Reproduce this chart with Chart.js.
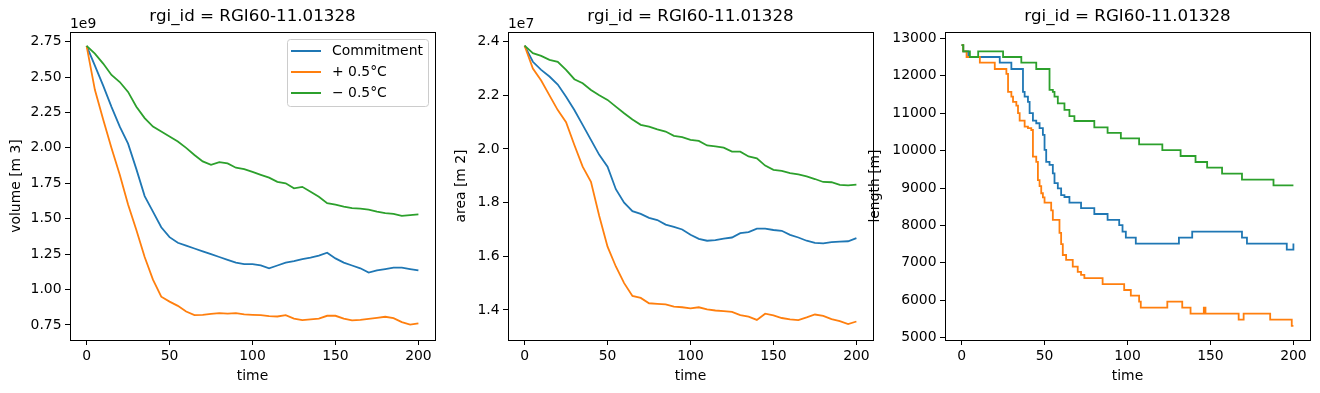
<!DOCTYPE html>
<html>
<head>
<meta charset="utf-8">
<script src="https://cdn.jsdelivr.net/npm/chart.js@4.4.0/dist/chart.umd.min.js"></script>
<style>
  body { margin: 0; background: #fff; }
  #wrap { position: relative; width: 1320px; height: 393px; overflow: hidden; background: #fff; }
  canvas { position: absolute; top: 0; }
</style>
</head>
<body>
<div id="wrap">
  <canvas id="volCanvas" width="440" height="393" style="left:0px"></canvas>
  <canvas id="areaCanvas" width="440" height="393" style="left:440px"></canvas>
  <canvas id="lenCanvas" width="460" height="393" style="left:860px"></canvas>
</div>
<script>
// Dados (tempo em anos)
var titulo = "rgi_id = RGI60-11.01328";
var nomes = ["Commitment", "+ 0.5°C", "\u2212 0.5°C"];
var cores = ["#1f77b4", "#ff7f0e", "#2ca02c"];
var anos = [0, 5, 10, 15, 20, 25, 30, 35, 40, 45, 50, 55, 60, 65, 70, 75, 80, 85, 90, 95, 100,
	105, 110, 115, 120, 125, 130, 135, 140, 145, 150, 155, 160, 165, 170, 175, 180, 185, 190, 195, 200];
var xTicks = [0, 50, 100, 150, 200];

// Volume (x 1e9 m3)
var volCommit = [2.72, 2.58, 2.44, 2.29, 2.15, 2.03, 1.85, 1.66, 1.55, 1.44, 1.37, 1.33, 1.31, 1.29, 1.27, 1.25, 1.23, 1.21, 1.19, 1.18, 1.18,
	1.17, 1.15, 1.17, 1.19, 1.2, 1.215, 1.225, 1.24, 1.26, 1.22, 1.19, 1.17, 1.15, 1.12, 1.135, 1.145, 1.155, 1.155, 1.145, 1.135];
var volQuente = [2.72, 2.41, 2.2, 2.0, 1.81, 1.6, 1.42, 1.23, 1.07, 0.95, 0.915, 0.885, 0.845, 0.82, 0.822, 0.829, 0.834, 0.83, 0.834, 0.825, 0.822,
	0.82, 0.812, 0.81, 0.82, 0.795, 0.785, 0.79, 0.795, 0.815, 0.815, 0.795, 0.783, 0.786, 0.793, 0.8, 0.808, 0.798, 0.77, 0.752, 0.762];
var volFrio = [2.72, 2.665, 2.595, 2.515, 2.465, 2.395, 2.29, 2.21, 2.15, 2.115, 2.08, 2.045, 2.0, 1.95, 1.905, 1.88, 1.9, 1.89, 1.86, 1.85, 1.83,
	1.81, 1.79, 1.76, 1.75, 1.715, 1.725, 1.69, 1.655, 1.61, 1.6, 1.585, 1.575, 1.572, 1.565, 1.55, 1.54, 1.535, 1.52, 1.525, 1.53];
var volTicks = [0.75, 1.0, 1.25, 1.5, 1.75, 2.0, 2.25, 2.5, 2.75];

// Área (x 1e7 m2)
var areaCommit = [2.385, 2.325, 2.295, 2.27, 2.24, 2.195, 2.145, 2.09, 2.034, 1.978, 1.934, 1.85, 1.8, 1.768, 1.758, 1.743, 1.735, 1.718, 1.71, 1.7, 1.68,
	1.665, 1.658, 1.66, 1.666, 1.67, 1.686, 1.69, 1.703, 1.703, 1.698, 1.695, 1.68, 1.67, 1.658, 1.65, 1.648, 1.653, 1.655, 1.656, 1.668];
var areaQuente = [2.385, 2.3, 2.255, 2.2, 2.145, 2.1, 2.015, 1.934, 1.878, 1.75, 1.636, 1.562, 1.5, 1.452, 1.445, 1.425, 1.423, 1.421, 1.412, 1.41, 1.406,
	1.41, 1.402, 1.398, 1.396, 1.393, 1.381, 1.375, 1.363, 1.386, 1.38, 1.37, 1.365, 1.362, 1.372, 1.383, 1.378, 1.366, 1.358, 1.347, 1.357];
var areaFrio = [2.385, 2.357, 2.347, 2.332, 2.325, 2.295, 2.26, 2.245, 2.22, 2.2, 2.183, 2.158, 2.133, 2.11, 2.09, 2.083, 2.073, 2.065, 2.049, 2.044, 2.034,
	2.03, 2.013, 2.01, 2.005, 1.99, 1.99, 1.972, 1.965, 1.938, 1.922, 1.918, 1.91, 1.905, 1.898, 1.888, 1.877, 1.876, 1.866, 1.864, 1.867];
var areaTicks = [1.4, 1.6, 1.8, 2.0, 2.2, 2.4];

// Comprimento (m) - degraus: ano em que o valor muda
var lenCommitT = [0, 1, 4, 23, 30, 37, 38, 40, 41, 43, 45, 47, 49, 50, 51, 53, 55, 56, 58, 60, 62, 65, 72, 80, 88, 95, 97, 99, 105, 131, 139, 169, 172, 196, 200];
var lenCommitV = [12820, 12650, 12500, 12350, 12180, 11570, 11440, 11300, 11000, 10800, 10730, 10600, 10420, 10020, 9700, 9620, 9390, 9130, 8990, 8810, 8760, 8610, 8460, 8305, 8150, 8010, 7835, 7675, 7515, 7675, 7835, 7675, 7515, 7355, 7515];
var lenQuenteT = [0, 1, 3, 11, 20, 27, 28, 30, 31, 33, 34, 35, 38, 40, 42, 43, 45, 46, 47, 48, 49, 50, 54, 55, 59, 60, 61, 63, 67, 70, 72, 74, 85, 98, 102, 107, 108, 124, 133, 138, 146, 147, 167, 170, 186, 199, 200];
var lenQuenteV = [12820, 12650, 12500, 12350, 12180, 12050, 11570, 11440, 11300, 11200, 11000, 10800, 10640, 10600, 10550, 9840, 9700, 9210, 9050, 8860, 8750, 8610, 8400, 8150, 7800, 7500, 7210, 7080, 6900, 6760, 6680, 6590, 6430, 6275, 6125, 5965, 5805, 5965, 5805, 5645, 5805, 5645, 5485, 5645, 5485, 5315, 5315];
var lenFrioT = [0, 1, 5, 10, 25, 36, 45, 53, 55, 56, 58, 62, 65, 68, 80, 88, 96, 107, 121, 132, 141, 148, 157, 169, 188, 200];
var lenFrioV = [12820, 12650, 12500, 12650, 12500, 12350, 12180, 11620, 11570, 11440, 11260, 11090, 10920, 10790, 10620, 10475, 10325, 10165, 10010, 9855, 9695, 9545, 9385, 9225, 9070, 9070];
var lenTicks = [5000, 6000, 7000, 8000, 9000, 10000, 11000, 12000, 13000];

Chart.defaults.font.family = "'DejaVu Sans', sans-serif";
Chart.defaults.font.size = 13.9;
Chart.defaults.color = "#000";

function pontos(xs, ys) {
	return xs.map(function (x, i) { return { x: x, y: ys[i] }; });
}

function series(listaX, listaY, degrau) {
	return listaY.map(function (ys, i) {
		return {
			label: nomes[i],
			data: pontos(listaX[i], ys),
			borderColor: cores[i],
			backgroundColor: cores[i],
			borderWidth: 1.8,
			pointRadius: 0,
			tension: 0,
			stepped: degrau ? "before" : false,
			order: 3 - i,
		};
	});
}

// Moldura, título, texto de offset e legenda no estilo matplotlib
var decoracao = {
	id: "decoracao",
	afterDraw: function (chart, args, opts) {
		var ctx = chart.ctx;
		var a = chart.chartArea;
		ctx.save();
		ctx.strokeStyle = "#000";
		ctx.lineWidth = 1;
		ctx.strokeRect(Math.round(a.left) + 0.5, Math.round(a.top) + 0.5, Math.round(a.right - a.left), Math.round(a.bottom - a.top));

		ctx.fillStyle = "#000";
		ctx.font = "16.7px 'DejaVu Sans'";
		ctx.textAlign = "center";
		ctx.textBaseline = "middle";
		ctx.fillText(titulo, (a.left + a.right) / 2, 17);

		if (opts.offset) {
			ctx.font = "13.9px 'DejaVu Sans'";
			ctx.textAlign = "left";
			ctx.textBaseline = "alphabetic";
			ctx.fillText(opts.offset, a.left, a.top - 4);
		}

		if (opts.legenda) {
			var w = 141, h = 67;
			var bx = a.right - 7 - w, by = a.top + 7;
			ctx.beginPath();
			ctx.roundRect(bx + 0.5, by + 0.5, w, h, 3);
			ctx.fillStyle = "rgba(255,255,255,0.8)";
			ctx.fill();
			ctx.strokeStyle = "#cccccc";
			ctx.stroke();
			ctx.font = "13.9px 'DejaVu Sans'";
			ctx.textAlign = "left";
			ctx.textBaseline = "middle";
			chart.data.datasets.forEach(function (ds, i) {
				var y = by + 12 + i * 21;
				ctx.beginPath();
				ctx.strokeStyle = ds.borderColor;
				ctx.lineWidth = 2;
				ctx.moveTo(bx + 4, y);
				ctx.lineTo(bx + 34, y);
				ctx.stroke();
				ctx.fillStyle = "#000";
				ctx.fillText(ds.label, bx + 45, y);
			});
		}
		ctx.restore();
	},
};

function painel(id, cfg) {
	return new Chart(document.getElementById(id), {
		type: "line",
		data: { datasets: cfg.datasets },
		plugins: [decoracao],
		options: {
			responsive: false,
			animation: false,
			devicePixelRatio: 1,
			layout: { padding: { top: 32, right: cfg.padRight, left: 0, bottom: 0 } },
			plugins: {
				legend: { display: false },
				tooltip: { enabled: false },
				decoracao: { offset: cfg.offset, legenda: cfg.legenda },
			},
			scales: {
				x: {
					type: "linear",
					min: -10,
					max: 210,
					afterBuildTicks: function (s) { s.ticks = xTicks.map(function (v) { return { value: v }; }); },
					afterFit: function (s) { s.height = 53; },
					ticks: { padding: 3, maxRotation: 0, callback: function (v) { return String(v); } },
					grid: { drawOnChartArea: false, drawTicks: true, tickLength: 5, color: "#000" },
					border: { display: false },
					title: { display: true, text: "time", padding: { top: 0, bottom: 8.6 } },
				},
				y: {
					type: "linear",
					min: cfg.yMin,
					max: cfg.yMax,
					afterBuildTicks: function (s) { s.ticks = cfg.yTicks.map(function (v) { return { value: v }; }); },
					afterFit: function (s) { s.width = cfg.axisWidth; },
					ticks: { padding: 3.5, callback: function (v) { return v.toFixed(cfg.casas); } },
					grid: { drawOnChartArea: false, drawTicks: true, tickLength: 5, color: "#000" },
					border: { display: false },
					title: { display: true, text: cfg.yTitle, padding: { top: cfg.yTitlePad, bottom: 0 } },
				},
			},
		},
	});
}

painel("volCanvas", {
	datasets: series([anos, anos, anos], [volCommit, volQuente, volFrio], false),
	yMin: 0.644, yMax: 2.818, yTicks: volTicks, casas: 2,
	yTitle: "volume [m 3]", yTitlePad: 8.3, axisWidth: 70, padRight: 5,
	offset: "1e9", legenda: true,
});

painel("areaCanvas", {
	datasets: series([anos, anos, anos], [areaCommit, areaQuente, areaFrio], false),
	yMin: 1.288, yMax: 2.436, yTicks: areaTicks, casas: 1,
	yTitle: "area [m 2]", yTitlePad: 13.3, axisWidth: 68, padRight: 7,
	offset: "1e7", legenda: false,
});

painel("lenCanvas", {
	datasets: series([lenCommitT, lenQuenteT, lenFrioT], [lenCommitV, lenQuenteV, lenFrioV], true),
	yMin: 4939, yMax: 13168, yTicks: lenTicks, casas: 0,
	yTitle: "length [m]", yTitlePad: 6.7, axisWidth: 85, padRight: 10,
	offset: null, legenda: false,
});
</script>
</body>
</html>
